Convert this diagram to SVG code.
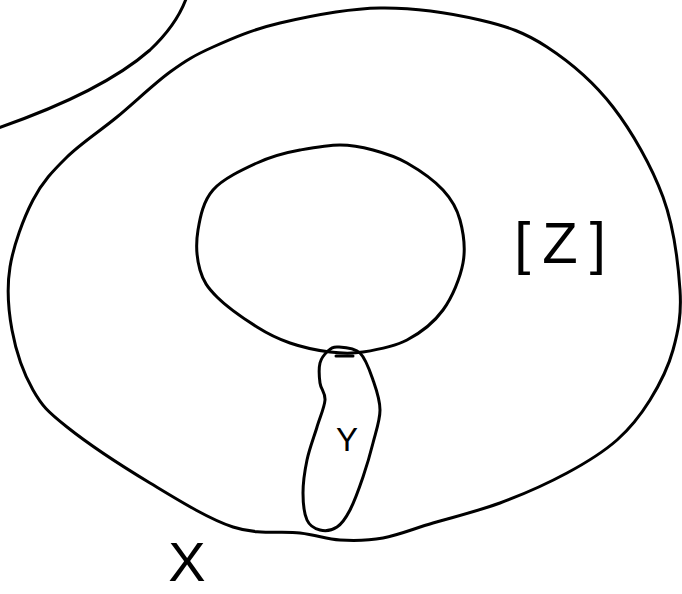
<svg xmlns="http://www.w3.org/2000/svg" width="682" height="594" viewBox="0 0 682 594">
<style>
.ln{fill:none;stroke:#000;stroke-width:3;stroke-linecap:round;stroke-linejoin:round}
.lb{font-family:"Liberation Sans",Arial,sans-serif;fill:#000}
</style>
<rect width="682" height="594" fill="#fff"/>
<g id="arc-top-left">
<path class="ln" d="M-2,128 C50,110 110,85 150,50 C168,33 180,15 186,-1"/>
</g>
<g id="outer-region">
<path class="ln" d="M380,8 C413.3,7.5 452.2,13.5 480,20 C507.8,26.5 524.8,32.5 547,47 C569.2,61.5 593.7,82 613,107 C632.3,132 651.8,166.5 663,197 C674.2,227.5 678.3,264.5 680,290 C681.7,315.5 678,331.7 673,350 C668,368.3 659.3,385 650,400 C640.7,415 630.8,427.8 617,440 C603.2,452.2 586.5,462.5 567,473 C547.5,483.5 522.3,494.7 500,503 C477.7,511.3 452.5,517.2 433,523 C413.5,528.8 398.5,535.2 383,538 C367.5,540.8 353.8,540.8 340,540 C326.2,539.2 317.8,535.2 300,533 C282.2,530.8 258,535.3 233,527 C208,518.7 177.7,499.7 150,483 C122.3,466.3 86.5,442.5 67,427 C47.5,411.5 42.2,406.2 33,390 C23.8,373.8 15.8,350.5 12,330 C8.2,309.5 6.5,288.7 10,267 C13.5,245.3 23.5,218.3 33,200 C42.5,181.7 53,170.8 67,157 C81,143.2 99.8,131.2 117,117 C134.2,102.8 154,83.7 170,72 C186,60.3 194.7,55.2 213,47 C231.3,38.8 252.2,29.5 280,23 C307.8,16.5 346.7,8.5 380,8 Z"/>
</g>
<g id="inner-hole">
<path class="ln" d="M340,145 C352.2,145 361.8,147 373,150 C384.2,153 395.3,156.3 407,163 C418.7,169.7 434.2,180.5 443,190 C451.8,199.5 456.7,207.8 460,220 C463.3,232.2 465.8,248 463,263 C460.2,278 452.3,297.2 443,310 C433.7,322.8 420.3,333 407,340 C393.7,347 375.8,350 363,352 C350.2,354 342.2,353.5 330,352 C317.8,350.5 302.2,347.2 290,343 C277.8,338.8 269.2,334.7 257,327 C244.8,319.3 226.5,306.5 217,297 C207.5,287.5 203.2,281.2 200,270 C196.8,258.8 195.8,243.3 198,230 C200.2,216.7 203.2,201.2 213,190 C222.8,178.8 242.5,169.7 257,163 C271.5,156.3 283.2,153 300,150 C316.8,147 327.8,145 340,145 Z"/>
</g>
<g id="region-Y">
<path class="ln" d="M338,347 C343.3,347.3 354.2,347.5 360,353 C365.8,358.5 369.7,370.5 373,380 C376.3,389.5 380,399.5 380,410 C380,420.5 375.8,431.8 373,443 C370.2,454.2 366.8,465.8 363,477 C359.2,488.2 354.3,501.7 350,510 C345.7,518.3 342,523.7 337,527 C332,530.3 325,531.2 320,530 C315,528.8 309.8,526.2 307,520 C304.2,513.8 303,503 303,493 C303,483 304.7,471 307,460 C309.3,449 314,437 317,427 C320,417 324.5,407.3 325,400 C325.5,392.7 320.8,389.2 320,383 C319.2,376.8 318.7,368.3 320,363 C321.3,357.7 325,353.7 328,351 C331,348.3 332.7,346.7 338,347 Z"/>
<path class="ln" d="M336,356 L353,356"/>
<text class="lb" x="347" y="451" font-size="33" text-anchor="middle">Y</text>
</g>
<g id="label-Z">
<text class="lb" x="566" y="263" font-size="58" text-anchor="middle" letter-spacing="12">[Z]</text>
</g>
<g id="label-X">
<text class="lb" x="187" y="581" font-size="56" text-anchor="middle">X</text>
</g>
</svg>
